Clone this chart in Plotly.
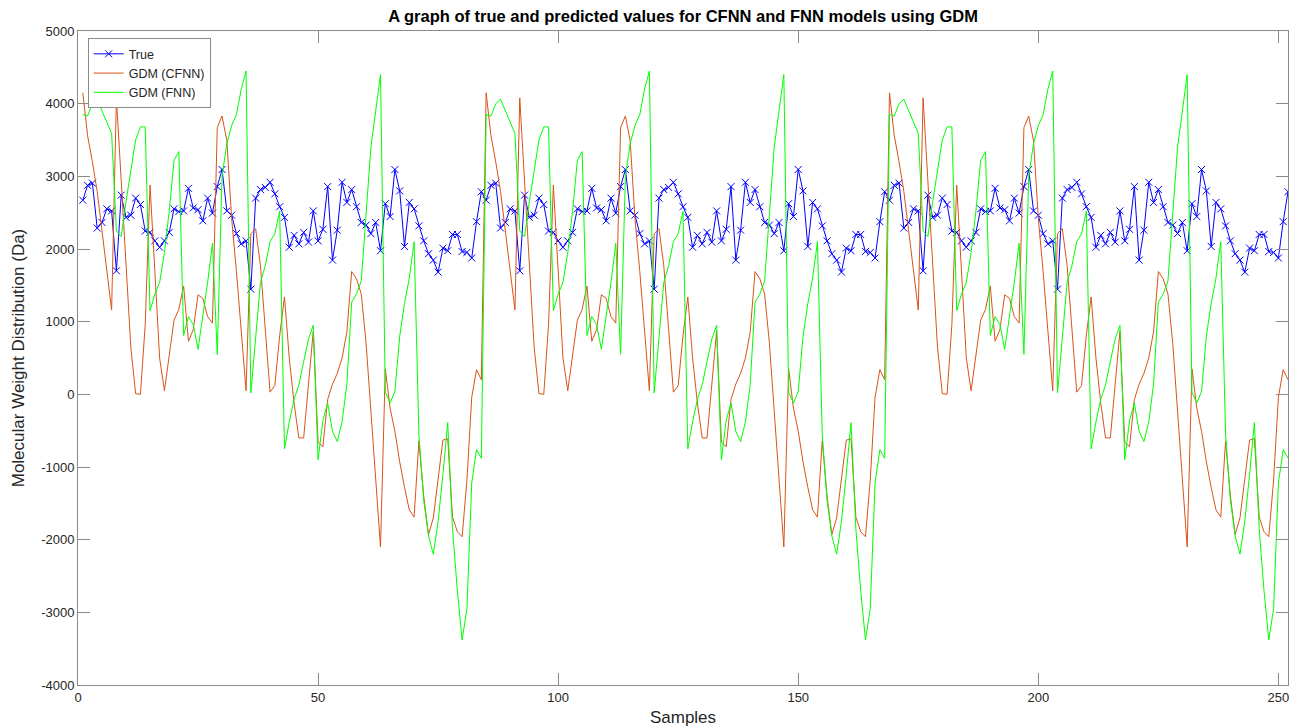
import plotly.graph_objects as go

# One 84-sample cycle (the chart repeats it three times)
true_cycle = [2671, 2876, 2906, 2288, 2365, 2553, 2524, 1700, 2741, 2435,
              2465, 2700, 2612, 2247, 2229, 2112, 2024, 2112, 2229, 2553,
              2515, 2524, 2835, 2565, 2541, 2388, 2700, 2494, 2859, 3094,
              2524, 2465, 2212, 2071, 2112, 1447, 2700, 2818, 2847, 2918,
              2759, 2582, 2435, 2024, 2188, 2071, 2229, 2094, 2524, 2112,
              2271, 2859, 1847, 2259, 2918, 2641, 2818, 2582, 2365, 2329,
              2212, 2365, 1976, 2624, 2447, 3094, 2800, 2035, 2641, 2553,
              2318, 2112, 1935, 1847, 1682, 2012, 1976, 2200, 2200, 1965,
              1953, 1876, 2376, 2788]

cfnn_cycle = [4150, 3560, 3200, 2790, 2250, 1690, 1160, 4080, 2890, 1690,
              650, 10, 0, 960, 2880, 1700, 500, 50, 500, 1020,
              1170, 1490, 730, 890, 1370, 1320, 1070, 980, 3670, 3830,
              3490, 2420, 1690, 860, 50, 2210, 2280, 1770, 890, 30,
              120, 810, 1340, 500, -120, -600, -600, 150, 870, -660,
              -720, -70, 140, 290, 500, 860, 1690, 1590, 1380, 700,
              -200, -1110, -2100, 350, -190, -510, -930, -1280, -1590, -1690,
              -640, -1400, -1930, -1700, -1150, -630, -610, -1690, -1890, -1960,
              -1180, -40, 340, 200]

fnn_cycle = [3850, 3830, 4000, 4060, 3900, 3750, 3590, 2250, 2170, 2650,
             3100, 3500, 3680, 3680, 1150, 1380, 1540, 1950, 2520, 3220,
             3340, 810, 1070, 960, 620, 1070, 1540, 2080, 550, 3000,
             3450, 3700, 3850, 4200, 4450, 20, 780, 1540, 1770, 2100,
             2210, 2520, -750, -380, -70, 130, 450, 760, 950, -900,
             -360, -120, -510, -650, -380, 140, 1270, 1380, 1560, 2550,
             3400, 3900, 4400, 30, -120, 40, 800, 1250, 1600, 2100,
             -550, -1460, -1950, -2200, -1750, -1100, -390, -1850, -2700, -3380,
             -2950, -1220, -760, -880]

true_vals = true_cycle + true_cycle + true_cycle
cfnn_vals = cfnn_cycle + cfnn_cycle + cfnn_cycle
fnn_vals = fnn_cycle + fnn_cycle + fnn_cycle
samples = list(range(1, len(true_vals) + 1))

x_ticks = [0, 50, 100, 150, 200, 250]
y_ticks = [-4000, -3000, -2000, -1000, 0, 1000, 2000, 3000, 4000, 5000]

FONT = "Liberation Sans, Arial, sans-serif"
AX = "#8a8a8a"
TXT = "#262626"

fig = go.Figure()
fig.add_trace(go.Scatter(
    x=samples, y=true_vals, name="True", mode="lines+markers",
    line=dict(color="#0000FF", width=1),
    marker=dict(symbol="x-thin", size=7, line=dict(color="#0000FF", width=1), color="#0000FF")))
fig.add_trace(go.Scatter(
    x=samples, y=cfnn_vals, name="GDM (CFNN)", mode="lines",
    line=dict(color="#D95319", width=1)))
fig.add_trace(go.Scatter(
    x=samples, y=fnn_vals, name="GDM (FNN)", mode="lines",
    line=dict(color="#00FF00", width=1)))

fig.update_layout(
    width=1307, height=727,
    margin=dict(l=78, r=19, t=31, b=42),
    paper_bgcolor="white", plot_bgcolor="white",
    font=dict(family=FONT, size=13, color=TXT),
    title=dict(text="<b>A graph of true and predicted values for CFNN and FNN models using GDM</b>",
               x=0.5226, xanchor="center", y=0.977, yanchor="middle",
               font=dict(size=16.5, color="#000000", family=FONT)),
    showlegend=True,
    legend=dict(x=0.008, y=0.989, xanchor="left", yanchor="top",
                bgcolor="white", bordercolor=AX, borderwidth=1,
                font=dict(size=12.5, color=TXT), tracegroupgap=0,
                itemwidth=30),
)
fig.update_xaxes(
    range=[0, 252], tickvals=x_ticks, ticktext=[str(v) for v in x_ticks],
    showgrid=False, zeroline=False, showline=True, linecolor=AX, linewidth=1,
    mirror="ticks", ticks="inside", ticklen=12, tickcolor=AX, tickwidth=1,
    tickfont=dict(size=13, color=TXT), automargin=False,
    title=dict(text="Samples", font=dict(size=17, color=TXT), standoff=10))
fig.update_yaxes(
    range=[-4000, 5000], tickvals=y_ticks, ticktext=[str(v) for v in y_ticks],
    showgrid=False, zeroline=False, showline=True, linecolor=AX, linewidth=1,
    mirror="ticks", ticks="inside", ticklen=12, tickcolor=AX, tickwidth=1,
    tickfont=dict(size=13, color=TXT), automargin=False,
    title=dict(text="Molecular Weight Distribution (Da)", font=dict(size=17, color=TXT), standoff=12))

fig.write_html("out.html")
